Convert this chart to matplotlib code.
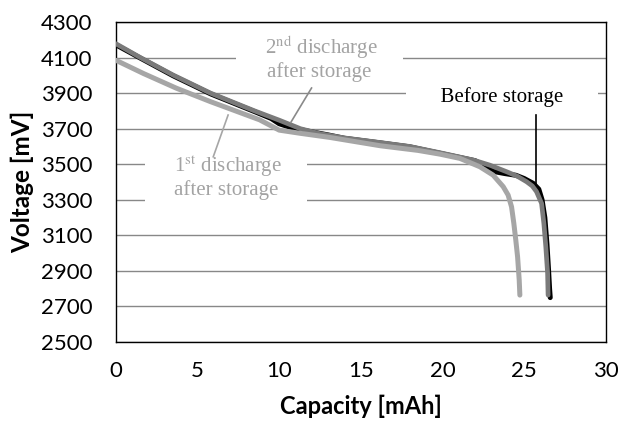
import matplotlib
matplotlib.use("Agg")
import matplotlib.pyplot as plt

# capacity [mAh] / voltage [mV]
cap_before = [0, 1.5, 3.5, 5.8, 8.5, 9.5, 10.0, 10.6, 11.2, 12.0, 13.0, 14.0, 16.2, 18.0, 19.84,
              22.0, 22.6, 23.1, 23.8, 24.5, 25.0, 25.55, 25.9, 26.1, 26.27, 26.4, 26.5, 26.56, 26.6]
v_before = [4172, 4097, 3998, 3896, 3796, 3758, 3728, 3710, 3697, 3682, 3665, 3646, 3620, 3598, 3562,
            3520, 3490, 3460, 3448, 3438, 3420, 3393, 3360, 3300, 3200, 3050, 2900, 2800, 2750]

cap_2nd = [0, 1.5, 3.5, 5.8, 8.5, 10.0, 11.3, 12.5, 14.0, 16.2, 18.0, 19.84, 21.88, 22.9, 23.93,
           24.6, 25.15, 25.5, 25.76, 26.07, 26.21, 26.33, 26.44, 26.47]
v_2nd = [4178, 4100, 4002, 3900, 3800, 3748, 3700, 3672, 3648, 3622, 3600, 3565, 3524, 3495, 3458,
         3432, 3402, 3378, 3346, 3280, 3168, 3036, 2886, 2764]

cap_1st = [0, 1.7, 3.7, 5.8, 8.8, 9.4, 10.0, 11.3, 13.1, 16.2, 18.5, 19.84, 21.07, 22.29, 23.1,
           23.72, 24.02, 24.23, 24.37, 24.49, 24.6, 24.7, 24.74]
v_1st = [4085, 4010, 3928, 3852, 3750, 3721, 3692, 3674, 3651, 3604, 3578, 3557, 3533, 3486, 3439,
         3374, 3327, 3261, 3168, 3074, 2980, 2849, 2764]

x_ticks = [0, 5, 10, 15, 20, 25, 30]
y_ticks = [2500, 2700, 2900, 3100, 3300, 3500, 3700, 3900, 4100, 4300]

DARK = "#7a7a7a"
LIGHT = "#a6a6a6"
TEXT_GREY = "#a3a3a3"

plt.rcParams["mathtext.fontset"] = "stix"

fig = plt.figure(figsize=(6.2, 4.21), dpi=100)
ax = fig.add_axes([0.187, 0.1876, 0.790, 0.760])

style = dict(solid_capstyle="round", solid_joinstyle="round")
ax.plot(cap_before, v_before, color="black", lw=3.6, zorder=4, **style)
ax.plot(cap_2nd, v_2nd, color=DARK, lw=3.4, zorder=5, **style)
ax.plot(cap_1st, v_1st, color=LIGHT, lw=3.6, zorder=5, **style)

ax.set_xlim(0, 30)
ax.set_ylim(2500, 4300)
ax.set_xticks(x_ticks)
ax.set_yticks(y_ticks)
ax.yaxis.grid(True, color="#888888", lw=1.0)
ax.set_axisbelow(True)
ax.tick_params(length=0, labelsize=16)
ax.tick_params(axis="y", pad=17)
ax.tick_params(axis="x", pad=14)
for lab in ax.get_xticklabels() + ax.get_yticklabels():
    lab.set_family("Lato")
for sp in ax.spines.values():
    sp.set_color("black")
    sp.set_linewidth(1.0)

ax.set_xlabel("Capacity [mAh]", family="Lato", fontweight="bold", fontsize=17)
ax.set_ylabel("Voltage [mV]", family="Lato", fontweight="bold", fontsize=17.5)
ax.xaxis.set_label_coords(0.5, -0.165)
ax.yaxis.set_label_coords(-0.166, 0.5)

box = dict(boxstyle="square,pad=0.15", fc="white", ec="none")
serif = ["Liberation Serif", "DejaVu Serif"]

# labels with white backing; the annotation lines are drawn separately
ax.text(23.65, 3876, "      Before storage      ", ha="center", va="center", fontsize=15,
        family=serif, color="black", bbox=box, zorder=3)
ax.plot([25.72, 25.72], [3777, 3383], color="black", lw=1.2, zorder=6)

ax.text(12.45, 4100, "     2$^{\\mathrm{nd}}$ discharge     \nafter storage", ha="center", va="center",
        fontsize=15, family=serif, color=TEXT_GREY, linespacing=1.05, bbox=box, zorder=3)
ax.plot([11.98, 10.72], [3929, 3737], color="#8a8a8a", lw=1.2, zorder=6)

ax.text(6.75, 3428, "     1$^{\\mathrm{st}}$ discharge     \nafter storage", ha="center", va="center",
        fontsize=15, family=serif, color=TEXT_GREY, linespacing=1.05, bbox=box, zorder=3)
ax.plot([6.87, 5.96], [3777, 3542], color=LIGHT, lw=1.2, zorder=6)

fig.savefig("out.png", dpi=100)
